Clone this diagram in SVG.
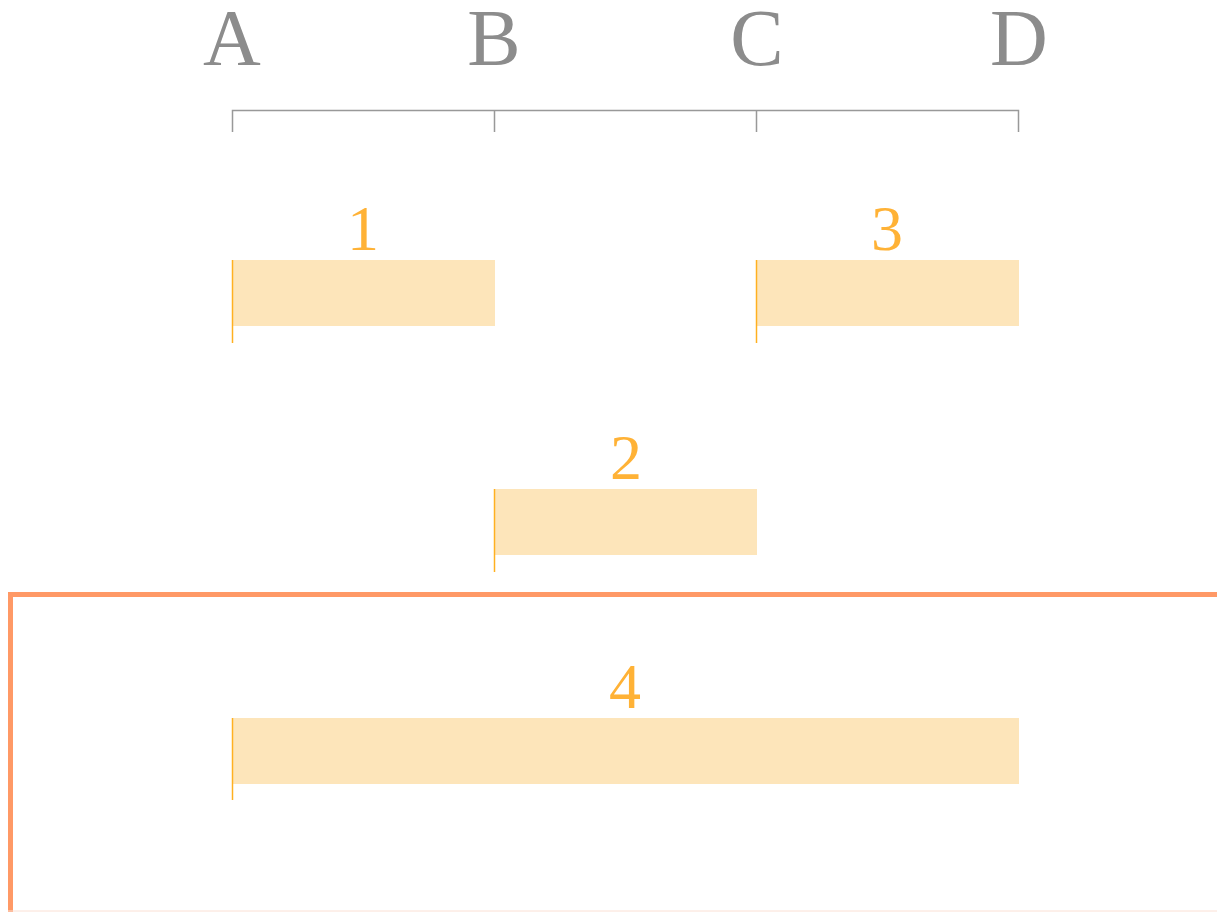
<svg xmlns="http://www.w3.org/2000/svg" width="1217" height="912" viewBox="0 0 1217 912">
<style>
.hdr{font-family:"Liberation Serif",serif;font-size:80px;fill:#8c8c8c;text-anchor:middle}
.num{font-family:"Liberation Serif",serif;font-size:64px;fill:#FFB236;text-anchor:middle}
.bar{fill:#FDE5BA}
.mark{stroke:#FFB020;stroke-width:1.5}
.axis{stroke:#999;stroke-width:1.5;fill:none}
</style>
<rect width="1217" height="912" fill="#fff"/>
<g id="frame">
<rect x="10.5" y="594.5" width="1300" height="400" fill="none" stroke="#FF9966" stroke-width="5"/>
<line x1="8" y1="911" x2="1217" y2="911" stroke="#FBE0D4" stroke-width="1"/>
</g>
<g id="header">
<text class="hdr" x="232" y="65">A</text>
<text class="hdr" x="494" y="65">B</text>
<text class="hdr" x="757" y="65">C</text>
<text class="hdr" x="1019" y="65">D</text>
<path class="axis" d="M232.5 132V110.5H1018.5V132M494.5 110.5V132M756.5 110.5V132"/>
</g>
<g id="node1">
<rect class="bar" x="232" y="260" width="263" height="66"/>
<line class="mark" x1="232.5" y1="260" x2="232.5" y2="343"/>
<text class="num" x="363" y="250">1</text>
</g>
<g id="node3">
<rect class="bar" x="757" y="260" width="262" height="66"/>
<line class="mark" x1="756.5" y1="260" x2="756.5" y2="343"/>
<text class="num" x="887" y="250">3</text>
</g>
<g id="node2">
<rect class="bar" x="495" y="489" width="262" height="66"/>
<line class="mark" x1="494.5" y1="489" x2="494.5" y2="572"/>
<text class="num" x="626" y="479">2</text>
</g>
<g id="node4">
<rect class="bar" x="232" y="718" width="787" height="66"/>
<line class="mark" x1="232.5" y1="718" x2="232.5" y2="800"/>
<text class="num" x="625" y="708">4</text>
</g>
<g id="connectors"/>
</svg>
